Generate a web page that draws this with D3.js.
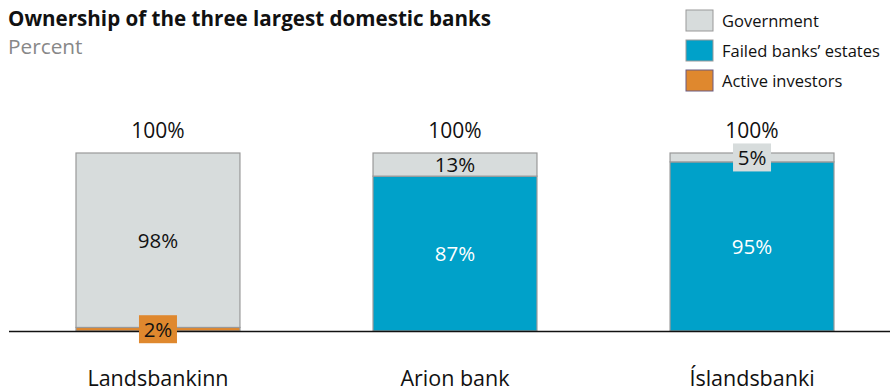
<!DOCTYPE html>
<html>
<head>
<meta charset="utf-8">
<script src="https://cdn.jsdelivr.net/npm/d3@7"></script>
<style>
  body { margin: 0; background: #fff; }
  svg { font-family: "Open Sans", "Noto Sans", sans-serif; }
</style>
</head>
<body>
<svg id="chart" width="890" height="391"></svg>
<script>
const banks = ["Landsbankinn", "Arion bank", "Íslandsbanki"];
const seriesNames = ["Active investors", "Failed banks’ estates", "Government"];
const activeInvestors = [2, 0, 0];
const failedEstates = [0, 87, 95];
const government = [98, 13, 5];
const totals = [100, 100, 100];

const colors = {
  "Government": "#d7dcdc",
  "Failed banks’ estates": "#00a1c9",
  "Active investors": "#df882e"
};

const rows = banks.map((bank, i) => ({
  bank,
  "Active investors": activeInvestors[i],
  "Failed banks’ estates": failedEstates[i],
  "Government": government[i]
}));

const svg = d3.select("#chart");

const x = d3.scaleBand().domain(banks).range([76, 834])
  .paddingInner(0.448).paddingOuter(0);
const y = d3.scaleLinear().domain([0, 100]).range([331, 153]);

const stacked = d3.stack().keys(seriesNames)(rows);

// bars
stacked.forEach((layer) => {
  svg.append("g")
    .selectAll("rect")
    .data(layer.filter((d) => d[1] - d[0] > 0))
    .enter()
    .append("rect")
    .attr("x", (d) => x(d.data.bank))
    .attr("y", (d) => y(d[1]))
    .attr("width", x.bandwidth())
    .attr("height", (d) => y(d[0]) - y(d[1]))
    .attr("fill", colors[layer.key])
    .attr("stroke", "#999")
    .attr("stroke-width", 1.2);
});

// baseline
svg.append("line")
  .attr("x1", 9).attr("x2", 890)
  .attr("y1", y(0) + 0.5).attr("y2", y(0) + 0.5)
  .attr("stroke", "#111")
  .attr("stroke-width", 1.5);

// segment labels
stacked.forEach((layer) => {
  layer.forEach((d) => {
    const v = d[1] - d[0];
    if (v <= 0) return;
    const cx = x(d.data.bank) + x.bandwidth() / 2;
    const h = y(d[0]) - y(d[1]);
    const cy = (y(d[0]) + y(d[1])) / 2;
    if (h < 18) {
      svg.append("rect")
        .attr("x", cx - 19)
        .attr("y", cy - 14)
        .attr("width", 38)
        .attr("height", 28)
        .attr("fill", colors[layer.key]);
    }
    svg.append("text")
      .attr("x", cx)
      .attr("y", cy)
      .attr("dy", "0.36em")
      .attr("text-anchor", "middle")
      .attr("font-size", 20.5)
      .attr("fill", layer.key === "Failed banks’ estates" ? "#fff" : "#111")
      .text(v + "%");
  });
});

// totals
svg.append("g")
  .selectAll("text")
  .data(banks)
  .enter()
  .append("text")
  .attr("x", (b) => x(b) + x.bandwidth() / 2)
  .attr("y", (b, i) => y(totals[i]) - 15)
  .attr("text-anchor", "middle")
  .attr("font-size", 21)
  .attr("fill", "#111")
  .text((b, i) => totals[i] + "%");

// category axis
const xAxis = svg.append("g")
  .attr("transform", `translate(0, ${y(0)})`)
  .call(d3.axisBottom(x).tickSize(0).tickPadding(40));
xAxis.select(".domain").remove();
xAxis.selectAll("text")
  .attr("font-size", 21.5)
  .attr("font-family", "'Open Sans', 'Noto Sans', sans-serif")
  .attr("fill", "#111");

// title
svg.append("text")
  .attr("x", 8).attr("y", 26)
  .attr("font-size", 20.6)
  .attr("font-weight", "bold")
  .attr("fill", "#111")
  .text("Ownership of the three largest domestic banks");
svg.append("text")
  .attr("x", 8).attr("y", 54)
  .attr("font-size", 20.8)
  .attr("fill", "#888")
  .text("Percent");

// legend
const legendKeys = ["Government", "Failed banks’ estates", "Active investors"];
const legend = svg.append("g")
  .selectAll("g")
  .data(legendKeys)
  .enter()
  .append("g")
  .attr("transform", (k, i) => `translate(686, ${10 + i * 30})`);
legend.append("rect")
  .attr("width", 27).attr("height", 21)
  .attr("fill", (k) => colors[k])
  .attr("stroke", (k) => k === "Active investors" ? "#6a5a80" : "#999")
  .attr("stroke-width", 1);
legend.append("text")
  .attr("x", 36).attr("y", 17)
  .attr("font-size", 16.5)
  .attr("fill", "#111")
  .text((k) => k);
</script>
</body>
</html>
